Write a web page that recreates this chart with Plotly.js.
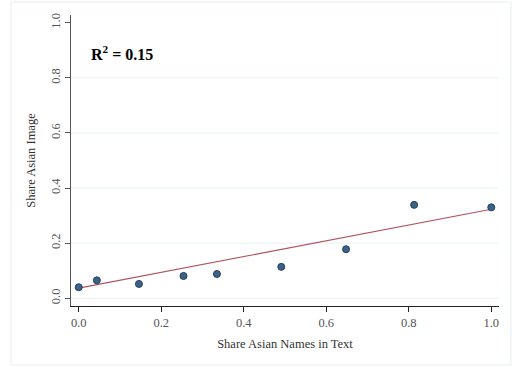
<!DOCTYPE html>
<html>
<head>
<meta charset="utf-8">
<script src="https://cdn.plot.ly/plotly-3.0.1.min.js"></script>
<style>html,body{margin:0;padding:0;background:#fff;}#chart{width:514px;height:367px;}</style>
</head>
<body>
<div id="chart"></div>
<script>
// Binned scatter data
var shareNames = [0.0, 0.044, 0.146, 0.254, 0.335, 0.491, 0.648, 0.813, 1.0];
var shareImage = [0.040, 0.065, 0.052, 0.081, 0.088, 0.114, 0.178, 0.339, 0.330];
// Fitted line endpoints
var fitX = [0.0, 1.0];
var fitY = [0.037, 0.323];
// Ticks and grid
var xTicks = [0.0, 0.2, 0.4, 0.6, 0.8, 1.0];
var xTickLabels = ["0.0", "0.2", "0.4", "0.6", "0.8", "1.0"];
var yTicks = [0.0, 0.2, 0.4, 0.6, 0.8, 1.0];
var yTickLabels = ["0.0", "0.2", "0.4", "0.6", "0.8", "1.0"];
var gridY = [0.0, 0.2, 0.4, 0.6, 0.8];
var r2Text = "R<sup>2</sup> = 0.15";

var serif = "Liberation Serif, Times New Roman, serif";

var traces = [
  {x: fitX, y: fitY, mode: "lines", type: "scatter",
   line: {color: "#b0535c", width: 1.1}, hoverinfo: "skip"},
  {x: shareNames, y: shareImage, mode: "markers", type: "scatter",
   marker: {color: "#3d6288", size: 7, line: {color: "#22405f", width: 1}}}
];

var shapes = gridY.map(function (v) {
  return {type: "line", xref: "paper", yref: "y", x0: 0, x1: 1, y0: v, y1: v,
          line: {color: "#e8f0f1", width: 1}, layer: "below"};
});
shapes.push({type: "rect", xref: "paper", yref: "paper",
  x0: -0.140, x1: 1.028, y0: -0.2027, y1: 1.0447,
  line: {color: "#e6eef0", width: 1}, layer: "below"});

var layout = {
  width: 514, height: 367,
  margin: {l: 71, r: 15, t: 15, b: 61},
  paper_bgcolor: "#ffffff", plot_bgcolor: "#ffffff",
  showlegend: false,
  font: {family: serif, color: "#444"},
  xaxis: {
    range: [-0.0187, 1.0187], showgrid: false, zeroline: false,
    showline: true, linecolor: "#222", linewidth: 1.3,
    tickmode: "array", tickvals: xTicks, ticktext: xTickLabels,
    ticks: "outside", ticklen: 5, tickcolor: "#222", tickwidth: 1,
    tickfont: {family: serif, size: 12.5, color: "#555"},
    title: {text: "Share Asian Names in Text", font: {family: serif, size: 12.5, color: "#333"}, standoff: 10}
  },
  yaxis: {
    range: [-0.028, 1.028], showgrid: false, zeroline: false,
    showline: true, linecolor: "#555", linewidth: 1.3,
    tickmode: "array", tickvals: yTicks, ticktext: yTickLabels,
    ticks: "outside", ticklen: 5, tickcolor: "#555", tickwidth: 1,
    tickangle: -90,
    tickfont: {family: serif, size: 12.5, color: "#555"},
    title: {text: "Share Asian Image", font: {family: serif, size: 12.5, color: "#333"}, standoff: 10}
  },
  shapes: shapes,
  annotations: [{
    x: 0.024, y: 0.89, xref: "x", yref: "y", xanchor: "left", yanchor: "middle",
    text: r2Text, showarrow: false,
    font: {family: serif, size: 16, color: "#000", weight: "bold"}
  }]
};

Plotly.newPlot("chart", traces, layout, {displayModeBar: false, staticPlot: true});
</script>
</body>
</html>
